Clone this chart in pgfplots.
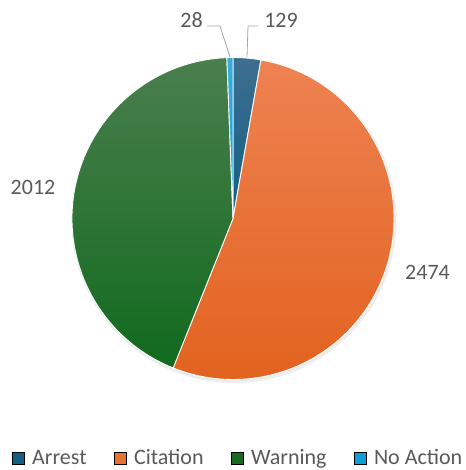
\documentclass[border=0pt]{standalone}
\usepackage{fontspec}
\setmainfont{Carlito}
\usepackage{pgfplots}
\usepackage{pgfplotstable}
\pgfplotsset{compat=1.18}

\definecolor{arrest}{HTML}{156082}
\definecolor{citation}{HTML}{E97132}
\definecolor{warning}{HTML}{196B24}
\definecolor{noaction}{HTML}{0F9ED5}
\definecolor{labelgray}{HTML}{595959}
\definecolor{leadgray}{HTML}{A6A6A6}
% gradient stops
\definecolor{arrTop}{HTML}{3E6E8E}
\definecolor{arrBot}{HTML}{10608A}
\definecolor{citTop}{HTML}{EE8252}
\definecolor{citMid}{HTML}{F07030}
\definecolor{citBot}{HTML}{E2621E}
\definecolor{warTop}{HTML}{4A7F4E}
\definecolor{warMid}{HTML}{1A6F25}
\definecolor{warBot}{HTML}{116A1E}
\definecolor{noaTop}{HTML}{3AAADC}
\definecolor{noaBot}{HTML}{1A9FD6}

% outcome counts
\pgfplotstableread{
outcome  count
Arrest   129
Citation 2474
Warning  2012
NoAction 28
}\piedata

\pgfplotstablegetelem{0}{count}\of\piedata \let\vA\pgfplotsretval
\pgfplotstablegetelem{1}{count}\of\piedata \let\vC\pgfplotsretval
\pgfplotstablegetelem{2}{count}\of\piedata \let\vW\pgfplotsretval
\pgfplotstablegetelem{3}{count}\of\piedata \let\vN\pgfplotsretval

\pgfmathsetmacro\tot{\vA+\vC+\vW+\vN}
% slice boundaries, clockwise from 12 o'clock
\pgfmathsetmacro\bO{90}
\pgfmathsetmacro\bA{90-360*(\vA/\tot)}
\pgfmathsetmacro\bC{\bA-360*(\vC/\tot)}
\pgfmathsetmacro\bW{\bC-360*(\vW/\tot)}
\pgfmathsetmacro\bN{\bW-360*(\vN/\tot)}

\def\cx{233}
\def\cy{251.5}
\def\R{161}

% wedge: start angle, end angle, shading options
\newcommand\slice[3]{%
  \path[shade, #3, draw=white, line width=0.9pt]
    (axis cs:\cx,\cy) -- (axis cs:{\cx+\R*cos(#1)},{\cy+\R*sin(#1)})
    arc[start angle=#1, end angle=#2, radius=\R] -- cycle;}

\begin{document}
\begin{tikzpicture}
\begin{axis}[
    width=463pt, height=470pt,
    scale only axis,
    xmin=0, xmax=463, ymin=0, ymax=470,
    disabledatascaling,
    hide axis,
    clip=false,
    legend image code/.code={\fill[#1] (0pt,-6pt) rectangle (12pt,6pt);},
    legend columns=4,
    legend style={
        draw=none, fill=none,
        at={(axis cs:237,12)}, anchor=center,
        font=\fontsize{22}{26}\selectfont,
        text=labelgray,
        nodes={inner sep=0pt},
        /tikz/every odd column/.append style={column sep=8pt},
        /tikz/every even column/.append style={column sep=27pt},
    },
]
% keep the full canvas as bounding box
\path (rel axis cs:0,0) rectangle (rel axis cs:1,1);

\fill[black, opacity=0.07] (axis cs:\cx+1,\cy-2) circle[radius=\R+1.5];

\slice{\bO}{\bA}{top color=arrTop, bottom color=arrBot}
\slice{\bA}{\bC}{top color=citTop, middle color=citMid, bottom color=citBot}
\slice{\bC}{\bW}{top color=warTop, middle color=warMid, bottom color=warBot}
\slice{\bW}{\bN}{top color=noaTop, bottom color=noaBot}

\draw[leadgray, line width=0.8pt] (axis cs:207,444) -- (axis cs:220,444) -- (axis cs:230,413);
\draw[leadgray, line width=0.8pt] (axis cs:258,444) -- (axis cs:248,444) -- (axis cs:247,413);

\begin{scope}[every node/.style={font=\fontsize{22}{26}\selectfont, text=labelgray}]
\node at (axis cs:191.5,450) {\vN};
\node at (axis cs:281,450) {\vA};
\node at (axis cs:33,283) {\vW};
\node at (axis cs:427.5,198) {\vC};
\end{scope}

\addlegendimage{fill=arrest}
\addlegendentry{Arrest}
\addlegendimage{fill=citation}
\addlegendentry{Citation}
\addlegendimage{fill=warning}
\addlegendentry{Warning}
\addlegendimage{fill=noaction}
\addlegendentry{No Action}
\end{axis}
\end{tikzpicture}
\end{document}
